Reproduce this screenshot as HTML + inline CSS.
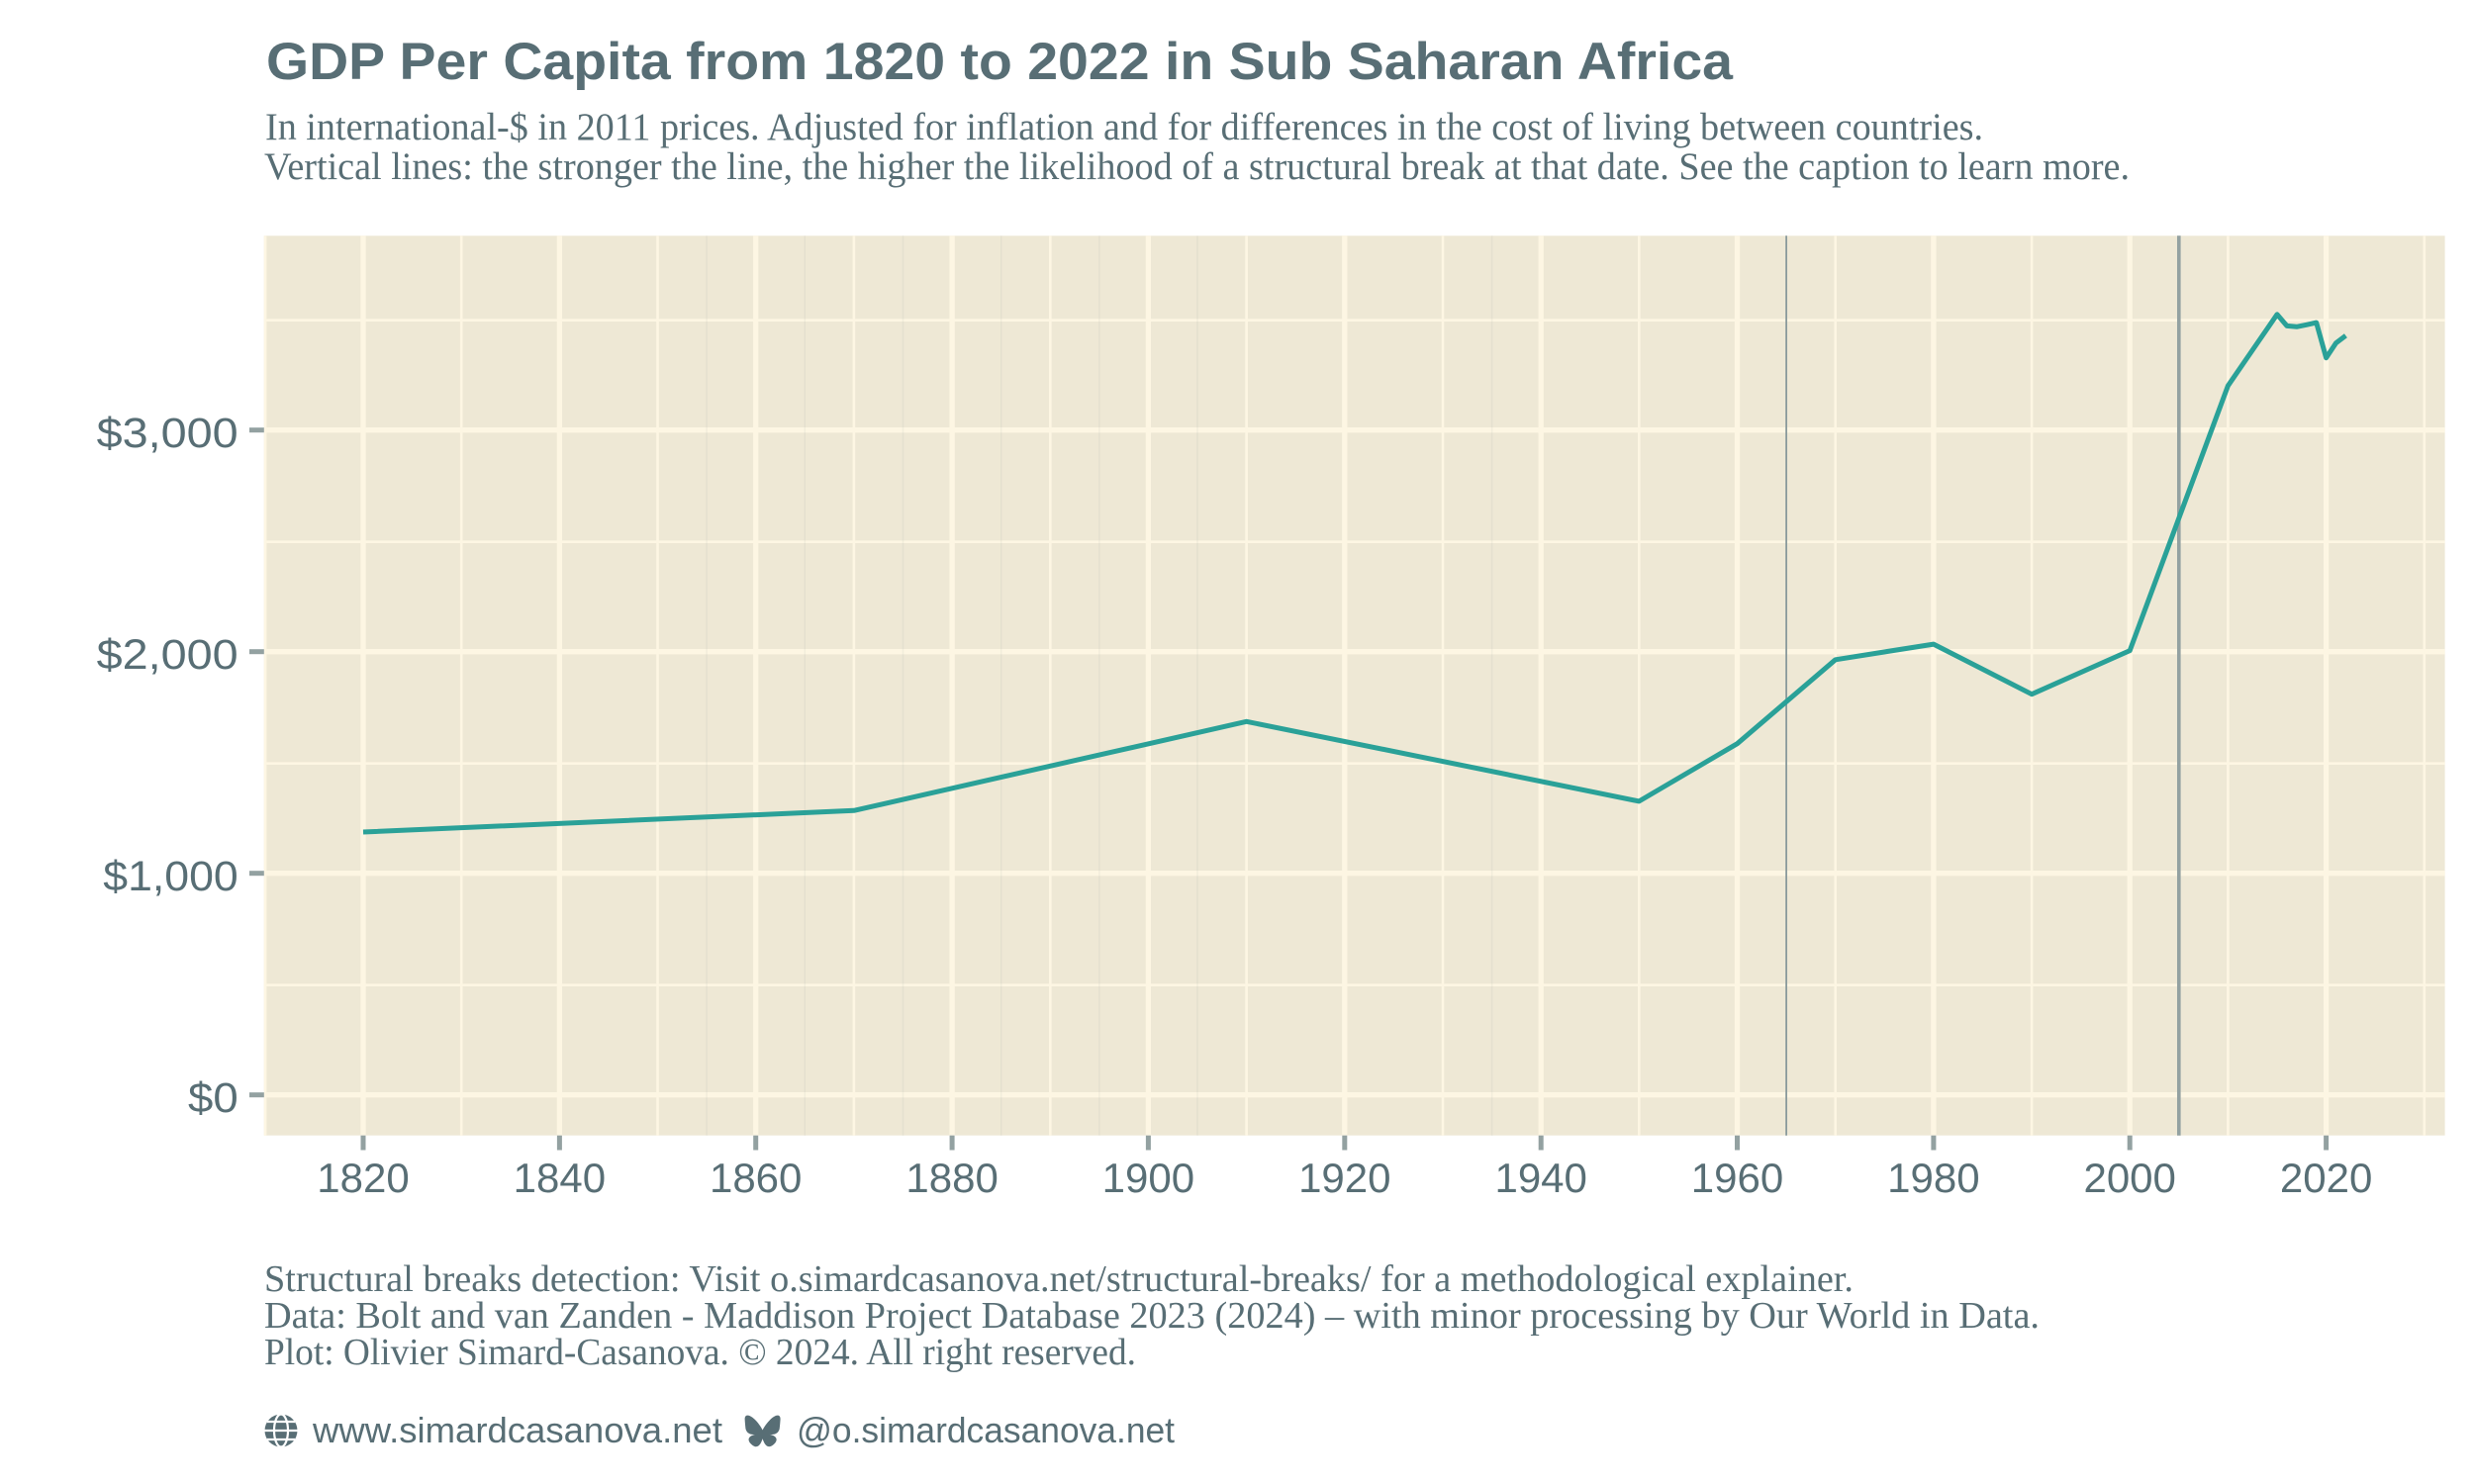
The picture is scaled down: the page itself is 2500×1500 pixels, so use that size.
<!DOCTYPE html>
<html>
<head>
<meta charset="utf-8">
<style>
  html, body { margin: 0; padding: 0; background: #ffffff; }
  svg { display: block; }
</style>
</head>
<body>
<svg width="2500" height="1500" viewBox="0 0 2500 1500" xmlns="http://www.w3.org/2000/svg">
  <rect x="0" y="0" width="2500" height="1500" fill="#ffffff"/>

  <!-- Title & subtitle -->
  <text x="269" y="80" font-family="Liberation Sans, Arial, sans-serif" font-weight="bold" font-size="53" fill="#586e75" textLength="1482" lengthAdjust="spacingAndGlyphs">GDP Per Capita from 1820 to 2022 in Sub Saharan Africa</text>
  <text x="268" y="141" font-family="Liberation Serif, serif" font-size="39" fill="#586e75" textLength="1736" lengthAdjust="spacingAndGlyphs">In international-$ in 2011 prices. Adjusted for inflation and for differences in the cost of living between countries.</text>
  <text x="267" y="181" font-family="Liberation Serif, serif" font-size="39" fill="#586e75" textLength="1885" lengthAdjust="spacingAndGlyphs">Vertical lines: the stronger the line, the higher the likelihood of a structural break at that date. See the caption to learn more.</text>

  <!-- Panel -->
  <rect x="266.8" y="238.3" width="2203.8" height="909.4" fill="#eee8d5"/>

  <g stroke="#fdf6e3" fill="none">
    <!-- minor horizontal -->
    <g stroke-width="2.6">
      <line x1="266.8" x2="2470.6" y1="995.7" y2="995.7"/>
      <line x1="266.8" x2="2470.6" y1="771.7" y2="771.7"/>
      <line x1="266.8" x2="2470.6" y1="547.7" y2="547.7"/>
      <line x1="266.8" x2="2470.6" y1="323.7" y2="323.7"/>
    </g>
    <!-- minor vertical -->
    <g stroke-width="2.6">
      <line y1="238.3" y2="1147.7" x1="268.1" x2="268.1"/>
      <line y1="238.3" y2="1147.7" x1="466.2" x2="466.2"/>
      <line y1="238.3" y2="1147.7" x1="664.5" x2="664.5"/>
      <line y1="238.3" y2="1147.7" x1="862.9" x2="862.9"/>
      <line y1="238.3" y2="1147.7" x1="1061.3" x2="1061.3"/>
      <line y1="238.3" y2="1147.7" x1="1259.6" x2="1259.6"/>
      <line y1="238.3" y2="1147.7" x1="1458.0" x2="1458.0"/>
      <line y1="238.3" y2="1147.7" x1="1656.3" x2="1656.3"/>
      <line y1="238.3" y2="1147.7" x1="1854.7" x2="1854.7"/>
      <line y1="238.3" y2="1147.7" x1="2053.1" x2="2053.1"/>
      <line y1="238.3" y2="1147.7" x1="2251.4" x2="2251.4"/>
      <line y1="238.3" y2="1147.7" x1="2449.8" x2="2449.8"/>
    </g>
    <!-- major horizontal -->
    <g stroke-width="5.3">
      <line x1="266.8" x2="2470.6" y1="1106.7" y2="1106.7"/>
      <line x1="266.8" x2="2470.6" y1="882.7" y2="882.7"/>
      <line x1="266.8" x2="2470.6" y1="658.7" y2="658.7"/>
      <line x1="266.8" x2="2470.6" y1="434.7" y2="434.7"/>
    </g>
    <!-- major vertical -->
    <g stroke-width="5.3">
      <line y1="238.3" y2="1147.7" x1="367.0" x2="367.0"/>
      <line y1="238.3" y2="1147.7" x1="565.4" x2="565.4"/>
      <line y1="238.3" y2="1147.7" x1="763.7" x2="763.7"/>
      <line y1="238.3" y2="1147.7" x1="962.1" x2="962.1"/>
      <line y1="238.3" y2="1147.7" x1="1160.4" x2="1160.4"/>
      <line y1="238.3" y2="1147.7" x1="1358.8" x2="1358.8"/>
      <line y1="238.3" y2="1147.7" x1="1557.2" x2="1557.2"/>
      <line y1="238.3" y2="1147.7" x1="1755.5" x2="1755.5"/>
      <line y1="238.3" y2="1147.7" x1="1953.9" x2="1953.9"/>
      <line y1="238.3" y2="1147.7" x1="2152.2" x2="2152.2"/>
      <line y1="238.3" y2="1147.7" x1="2350.6" x2="2350.6"/>
    </g>
  </g>

  <!-- Structural break lines -->
  <g stroke="#93a1a1" stroke-width="1.5" stroke-opacity="0.1">
    <line y1="238.3" y2="1147.7" x1="714.1" x2="714.1"/>
    <line y1="238.3" y2="1147.7" x1="813.3" x2="813.3"/>
    <line y1="238.3" y2="1147.7" x1="912.5" x2="912.5"/>
    <line y1="238.3" y2="1147.7" x1="1011.7" x2="1011.7"/>
    <line y1="238.3" y2="1147.7" x1="1110.9" x2="1110.9"/>
    <line y1="238.3" y2="1147.7" x1="1210.0" x2="1210.0"/>
    <line y1="238.3" y2="1147.7" x1="1507.6" x2="1507.6"/>
  </g>
  <line y1="238.3" y2="1147.7" x1="1805.1" x2="1805.1" stroke="#8a9a9c" stroke-width="1.8"/>
  <line y1="238.3" y2="1147.7" x1="2201.8" x2="2201.8" stroke="#93a1a1" stroke-width="3.6"/>

  <!-- Data line -->
  <polyline fill="none" stroke="#2aa198" stroke-width="5" stroke-linejoin="round" stroke-linecap="butt"
    points="367.0,841.0 862.9,819.3 1259.6,729.3 1656.3,809.9 1755.5,751.7 1854.7,666.8 1953.9,651.1 2053.1,701.7 2152.2,657.6 2251.4,389.9 2301.0,317.8 2310.9,329.4 2320.8,330.3 2330.7,328.3 2340.7,326.1 2350.6,361.7 2360.5,346.7 2370.4,339.3"/>

  <!-- Axis ticks -->
  <g stroke="#93a1a1" stroke-width="5">
    <line x1="252" x2="266.8" y1="1106.7" y2="1106.7"/>
    <line x1="252" x2="266.8" y1="882.7" y2="882.7"/>
    <line x1="252" x2="266.8" y1="658.7" y2="658.7"/>
    <line x1="252" x2="266.8" y1="434.7" y2="434.7"/>
    <line y1="1147.7" y2="1162.5" x1="367.0" x2="367.0"/>
    <line y1="1147.7" y2="1162.5" x1="565.4" x2="565.4"/>
    <line y1="1147.7" y2="1162.5" x1="763.7" x2="763.7"/>
    <line y1="1147.7" y2="1162.5" x1="962.1" x2="962.1"/>
    <line y1="1147.7" y2="1162.5" x1="1160.4" x2="1160.4"/>
    <line y1="1147.7" y2="1162.5" x1="1358.8" x2="1358.8"/>
    <line y1="1147.7" y2="1162.5" x1="1557.2" x2="1557.2"/>
    <line y1="1147.7" y2="1162.5" x1="1755.5" x2="1755.5"/>
    <line y1="1147.7" y2="1162.5" x1="1953.9" x2="1953.9"/>
    <line y1="1147.7" y2="1162.5" x1="2152.2" x2="2152.2"/>
    <line y1="1147.7" y2="1162.5" x1="2350.6" x2="2350.6"/>
  </g>

  <!-- Y labels -->
  <g font-family="Liberation Sans, Arial, sans-serif" font-size="43" fill="#586e75">
    <text x="97.7" y="452" textLength="143" lengthAdjust="spacingAndGlyphs">$3,000</text>
    <text x="97.7" y="676" textLength="143" lengthAdjust="spacingAndGlyphs">$2,000</text>
    <text x="104.3" y="900" textLength="136.4" lengthAdjust="spacingAndGlyphs">$1,000</text>
    <text x="190" y="1124" textLength="50.7" lengthAdjust="spacingAndGlyphs">$0</text>
  </g>

  <!-- X labels -->
  <g font-family="Liberation Sans, Arial, sans-serif" font-size="42" fill="#586e75" text-anchor="middle">
    <text x="367.0" y="1205">1820</text>
    <text x="565.4" y="1205">1840</text>
    <text x="763.7" y="1205">1860</text>
    <text x="962.1" y="1205">1880</text>
    <text x="1160.4" y="1205">1900</text>
    <text x="1358.8" y="1205">1920</text>
    <text x="1557.2" y="1205">1940</text>
    <text x="1755.5" y="1205">1960</text>
    <text x="1953.9" y="1205">1980</text>
    <text x="2152.2" y="1205">2000</text>
    <text x="2350.6" y="1205">2020</text>
  </g>

  <!-- Caption -->
  <g font-family="Liberation Serif, serif" font-size="38" fill="#586e75">
    <text x="267" y="1305" textLength="1606" lengthAdjust="spacingAndGlyphs">Structural breaks detection: Visit o.simardcasanova.net/structural-breaks/ for a methodological explainer.</text>
    <text x="267" y="1342" textLength="1794" lengthAdjust="spacingAndGlyphs">Data: Bolt and van Zanden - Maddison Project Database 2023 (2024) – with minor processing by Our World in Data.</text>
    <text x="267" y="1379" textLength="881" lengthAdjust="spacingAndGlyphs">Plot: Olivier Simard-Casanova. © 2024. All right reserved.</text>
  </g>

  <!-- Globe icon -->
  <g>
    <circle cx="284" cy="1446" r="16.5" fill="#586e75"/>
    <g stroke="#ffffff" stroke-width="2.2" fill="none">
      <line x1="267.5" x2="300.5" y1="1446" y2="1446"/>
      <line x1="270" x2="298" y1="1437" y2="1437"/>
      <line x1="270" x2="298" y1="1455" y2="1455"/>
      <ellipse cx="284" cy="1446" rx="7" ry="16.5"/>
    </g>
  </g>
  <text x="316" y="1458" font-family="Liberation Sans, Arial, sans-serif" font-size="36" fill="#586e75" textLength="414" lengthAdjust="spacingAndGlyphs">www.simardcasanova.net</text>

  <!-- Butterfly icon -->
  <path transform="translate(752,1430) scale(0.062)" fill="#586e75" d="M135.72 44.03C202.216 93.951 273.74 195.17 300 249.49c26.262-54.316 97.782-155.54 164.28-205.46C512.26 8.009 590-19.862 590 68.825c0 17.712-10.155 148.79-16.111 170.07-20.703 73.984-96.144 92.854-163.25 81.433 117.3 19.964 147.14 86.092 82.697 152.220-122.39 125.59-175.91-31.511-189.63-71.766-2.514-7.38-3.690-10.832-3.708-7.896-.017-2.936-1.193.516-3.707 7.896-13.714 40.255-67.233 197.36-189.63 71.766-64.444-66.128-34.605-132.26 82.697-152.22-67.108 11.421-142.55-7.45-163.25-81.433C20.15 217.613 9.997 86.535 9.997 68.825c0-88.687 77.742-60.816 125.72-24.795z"/>
  <text x="805" y="1458" font-family="Liberation Sans, Arial, sans-serif" font-size="36" fill="#586e75" textLength="382" lengthAdjust="spacingAndGlyphs">@o.simardcasanova.net</text>
</svg>
</body>
</html>
